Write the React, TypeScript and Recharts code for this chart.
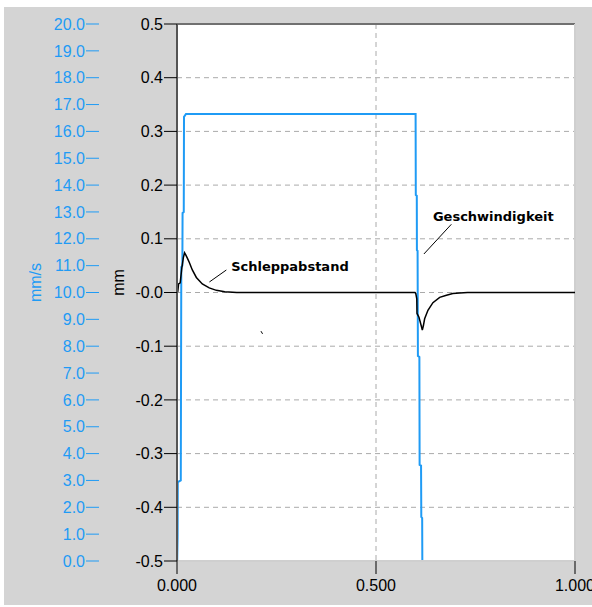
import { LineChart, Line, XAxis, YAxis, CartesianGrid, ReferenceLine, ReferenceDot } from "recharts";

// velocity (mm/s, left blue axis) over time (s)
const velTime = [0.0005, 0.0015, 0.002, 0.0095, 0.0108, 0.0135, 0.014, 0.017, 0.0176, 0.0226,
  0.5995, 0.6, 0.6025, 0.6028, 0.6045, 0.6053, 0.609, 0.6096, 0.6132, 0.6138, 0.616, 0.6164];
const velValues = [0, 0.9, 2.94, 3.0, 10.95, 11.0, 12.96, 13.0, 16.54, 16.65,
  16.65, 13.63, 13.6, 11.58, 11.55, 7.64, 7.6, 3.58, 3.55, 1.64, 1.6, 0];

// following error (mm, inner black axis)
const lagTime = [0, 0.002, 0.004, 0.008, 0.012, 0.016, 0.019, 0.022, 0.026, 0.031, 0.0385, 0.0486,
  0.0636, 0.081, 0.099, 0.12, 0.15, 0.598, 0.6, 0.6025, 0.603, 0.608, 0.613, 0.6164, 0.619, 0.6222,
  0.6305, 0.643, 0.66, 0.677, 0.693, 0.71, 0.73, 1.0];
const lagValues = [0, 0.002, 0.016, 0.018, 0.045, 0.065, 0.074, 0.07, 0.064, 0.056, 0.042, 0.028,
  0.016, 0.0085, 0.004, 0.0015, 0, 0, -0.002, -0.012, -0.039, -0.046, -0.06, -0.07, -0.062, -0.049,
  -0.033, -0.019, -0.009, -0.005, -0.002, -0.001, 0, 0];

const timeTicks = [0, 0.5, 1];
const mmTicks = [-0.5, -0.4, -0.3, -0.2, -0.1, 0, 0.1, 0.2, 0.3, 0.4, 0.5];
const velTicks = [0, 1, 2, 3, 4, 5, 6, 7, 8, 9, 10, 11, 12, 13, 14, 15, 16, 17, 18, 19, 20];

const velData = velTime.map((t, i) => ({ t, v: velValues[i] }));
const lagData = lagTime.map((t, i) => ({ t, v: lagValues[i] }));

const BLUE = "#1f9bf5";
const tickFont = { fontFamily: "Liberation Sans, Arial, sans-serif", fontSize: 16 };

const annot = (text: string) => (props: any) => {
  const vb = props.viewBox || {};
  return (
    <text x={vb.x} y={vb.y} fontFamily="DejaVu Sans" fontWeight="bold" fontSize={13} fill="#000">
      {text}
    </text>
  );
};

export default function App() {
  return (
    <div style={{ position: "absolute", left: 0, top: 0, width: 592, height: 607, background: "#fff", overflow: "hidden" }}>
      <div style={{ position: "absolute", left: 4, top: 7, width: 588, height: 598, background: "#d4d4d4" }}>
        <LineChart width={588} height={598} margin={{ top: 17, right: 17, left: 0, bottom: 0 }}>
          <CartesianGrid yAxisId="mm" xAxisId="t" fill="#fff" stroke="#aaa" strokeDasharray="5 4" />
          <XAxis
            xAxisId="t"
            type="number"
            dataKey="t"
            domain={[0, 1]}
            ticks={timeTicks}
            interval={0}
            tickFormatter={(v: number) => v.toFixed(3)}
            height={44}
            tickSize={13}
            tickMargin={6}
            axisLine={{ stroke: "#cfcfcf", strokeWidth: 2 }}
            tickLine={{ stroke: "#000" }}
            tick={{ ...tickFont, fill: "#000" }}
          />
          <YAxis
            yAxisId="mm"
            type="number"
            domain={[-0.5, 0.5]}
            ticks={mmTicks}
            interval={0}
            width={78}
            tickSize={13}
            tickMargin={1}
            tickFormatter={(v: number) => (v === 0 ? "-0.0" : v.toFixed(1))}
            axisLine={{ stroke: "#555", strokeWidth: 2 }}
            tickLine={{ stroke: "#000" }}
            tick={{ ...tickFont, fill: "#000" }}
            label={{ value: "mm", angle: -90, position: "center", dx: -20, dy: -10, fill: "#000", ...tickFont }}
          />
          <YAxis
            yAxisId="v"
            type="number"
            domain={[0, 20]}
            ticks={velTicks}
            interval={0}
            width={95}
            tickSize={13}
            tickMargin={1}
            tickFormatter={(v: number) => v.toFixed(1)}
            axisLine={false}
            tickLine={{ stroke: BLUE }}
            tick={{ ...tickFont, fill: BLUE }}
            label={{ value: "mm/s", angle: -90, position: "center", dx: -16, dy: -10, fill: BLUE, ...tickFont }}
          />
          <ReferenceLine yAxisId="mm" xAxisId="t" y={0.5} stroke="#707070" strokeWidth={2} />
          <ReferenceLine yAxisId="mm" xAxisId="t" x={1} stroke="#cfcfcf" strokeWidth={2} />
          <Line
            xAxisId="t"
            yAxisId="v"
            data={velData}
            dataKey="v"
            type="linear"
            stroke={BLUE}
            strokeWidth={2}
            dot={false}
            isAnimationActive={false}
          />
          <Line
            xAxisId="t"
            yAxisId="mm"
            data={lagData}
            dataKey="v"
            type="linear"
            stroke="#000"
            strokeWidth={1.5}
            dot={false}
            isAnimationActive={false}
          />
          <ReferenceLine
            yAxisId="mm"
            xAxisId="t"
            segment={[{ x: 0.0814, y: 0.0196 }, { x: 0.124, y: 0.0419 }]}
            stroke="#000"
          />
          <ReferenceLine
            yAxisId="mm"
            xAxisId="t"
            segment={[{ x: 0.6204, y: 0.0717 }, { x: 0.6893, y: 0.127 }]}
            stroke="#000"
          />
          <ReferenceLine
            yAxisId="mm"
            xAxisId="t"
            segment={[{ x: 0.211, y: -0.072 }, { x: 0.215, y: -0.077 }]}
            stroke="#000"
          />
          <ReferenceDot yAxisId="mm" xAxisId="t" x={0.136} y={0.0406} r={0} fill="none" stroke="none" label={annot("Schleppabstand")} />
          <ReferenceDot yAxisId="mm" xAxisId="t" x={0.643} y={0.1337} r={0} fill="none" stroke="none" label={annot("Geschwindigkeit")} />
        </LineChart>
      </div>
    </div>
  );
}
